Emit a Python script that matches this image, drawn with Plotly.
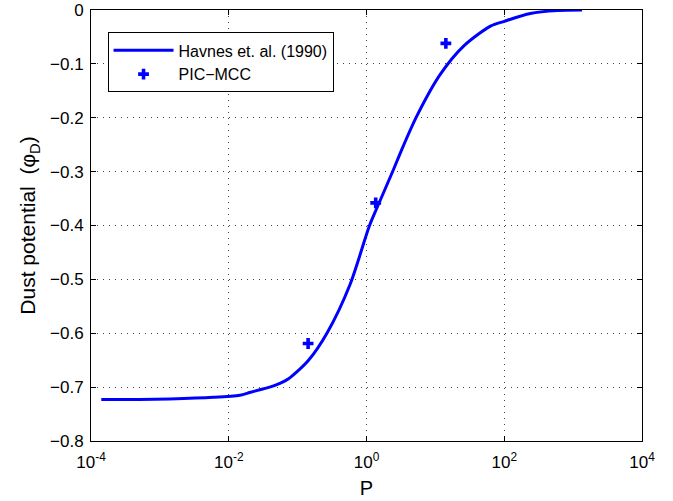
import plotly.graph_objects as go

# Havnes et al. (1990) curve
P_havnes = [1.41e-4, 5.0e-4, 1.38e-3, 5.9e-3, 0.0145, 0.0202, 0.0282, 0.0394, 0.055,
            0.0729, 0.142, 0.269, 0.575, 1.10, 1.41, 2.45, 3.25, 5.37, 11.7, 25.7,
            63.1, 100, 240, 589, 1350]
phi_havnes = [-0.723, -0.723, -0.722, -0.719, -0.715, -0.710, -0.705, -0.700, -0.693,
              -0.685, -0.651, -0.599, -0.510, -0.401, -0.368, -0.297, -0.259, -0.197,
              -0.120, -0.067, -0.030, -0.021, -0.0065, -0.001, 0.0]

# PIC-MCC simulation points
P_pic = [0.142, 1.36, 14.2]
phi_pic = [-0.619, -0.358, -0.062]

x_tickvals = [1e-4, 1e-2, 1e0, 1e2, 1e4]
x_ticktext = ["10<sup>-4</sup>", "10<sup>-2</sup>", "10<sup>0</sup>", "10<sup>2</sup>", "10<sup>4</sup>"]
y_tickvals = [-0.8, -0.7, -0.6, -0.5, -0.4, -0.3, -0.2, -0.1, 0]
y_ticktext = ["\u22120.8", "\u22120.7", "\u22120.6", "\u22120.5", "\u22120.4",
              "\u22120.3", "\u22120.2", "\u22120.1", "0"]

BLUE = "#0000ff"
FONT = "Liberation Sans, Arial, sans-serif"
fig = go.Figure()
fig.add_trace(go.Scatter(x=P_havnes, y=phi_havnes, mode="lines",
                         line=dict(color=BLUE, width=3, shape="spline", smoothing=0.8),
                         name="Havnes et. al. (1990)"))
fig.add_trace(go.Scatter(x=P_pic, y=phi_pic, mode="markers",
                         marker=dict(symbol="cross", size=9, color=BLUE),
                         name="PIC\u2212MCC"))

fig.update_layout(
    width=673, height=501,
    margin=dict(l=91, r=31, t=10, b=60, autoexpand=False),
    paper_bgcolor="white", plot_bgcolor="white",
    font=dict(family=FONT, color="black", size=17),
    xaxis=dict(type="log", range=[-4, 4], tickmode="array",
               tickvals=x_tickvals, ticktext=x_ticktext,
               tickfont=dict(family=FONT, size=17, color="black"),
               ticklabelstandoff=6,
               title=dict(text="P", font=dict(family=FONT, size=20, color="black"), standoff=9),
               showline=True, linecolor="black", linewidth=1, mirror="ticks",
               ticks="inside", ticklen=5, tickcolor="black",
               showgrid=True, gridcolor="#444444", griddash="1px,5px", gridwidth=1,
               zeroline=False, automargin=False),
    yaxis=dict(range=[-0.8, 0], tickmode="array",
               tickvals=y_tickvals, ticktext=y_ticktext,
               tickfont=dict(family=FONT, size=17, color="black"),
               ticklabelstandoff=3,
               title=dict(text="Dust potential  (\u03c6<sub>D</sub>)",
                          font=dict(family=FONT, size=21, color="black"), standoff=8),
               showline=True, linecolor="black", linewidth=1, mirror="ticks",
               ticks="inside", ticklen=5, tickcolor="black",
               showgrid=True, gridcolor="#444444", griddash="1px,5px", gridwidth=1,
               zeroline=False, automargin=False),
    legend=dict(x=0.03, y=0.948, xanchor="left", yanchor="top",
                bgcolor="white", bordercolor="black", borderwidth=1,
                font=dict(family=FONT, size=16, color="black"),
                tracegroupgap=0, itemwidth=60),
    showlegend=True,
)

fig.write_html("out.html")
